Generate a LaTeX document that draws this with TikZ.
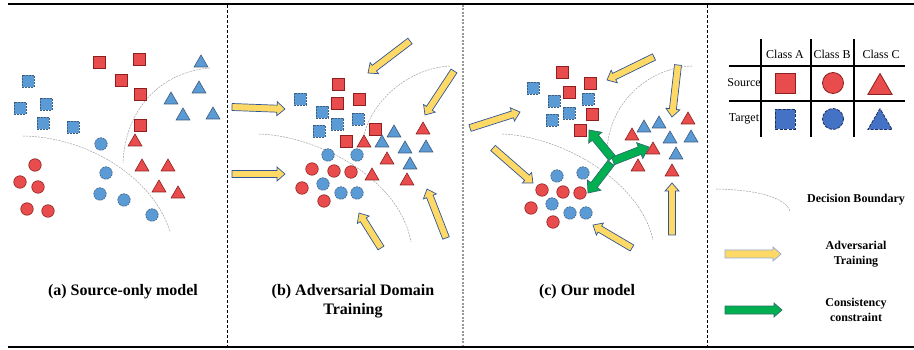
\documentclass[tikz,border=0pt]{standalone}
\usepackage{fontspec}
\setmainfont{Liberation Serif}
\usetikzlibrary{shapes.geometric,calc}

\definecolor{rfill}{HTML}{E84C4C}
\definecolor{rline}{HTML}{8E1F1F}
\definecolor{bfill}{HTML}{5B9BD5}
\definecolor{bline}{HTML}{3E5C7E}
\definecolor{lbfill}{HTML}{4472C4}
\definecolor{lbline}{HTML}{1F2F5F}
\definecolor{yfill}{HTML}{FFD966}
\definecolor{yline}{HTML}{2F5597}
\definecolor{ylline}{HTML}{8FAADC}
\definecolor{gfill}{HTML}{00B050}
\definecolor{gline}{HTML}{2E6E6E}

\tikzset{
  ptbase/.style={inner sep=0pt, outer sep=0pt, line width=0.6pt},
  ssq/.style={ptbase, rectangle, minimum size=12pt, fill=rfill, draw=rline},
  tsq/.style={ptbase, rectangle, minimum size=12pt, fill=bfill, draw=bline, dash pattern=on 2pt off 1pt},
  sci/.style={ptbase, circle, minimum size=12.5pt, fill=rfill, draw=rline},
  tci/.style={ptbase, circle, minimum size=12.5pt, fill=bfill, draw=bline, dash pattern=on 2pt off 1pt},
  str/.style={ptbase, regular polygon, regular polygon sides=3, minimum size=16pt, yshift=-2pt, fill=rfill, draw=rline},
  ttr/.style={ptbase, regular polygon, regular polygon sides=3, minimum size=16pt, yshift=-2pt, fill=bfill, draw=bline},
  lssq/.style={ptbase, rectangle, minimum size=20pt, fill=rfill, draw=rline, line width=0.8pt},
  ltsq/.style={ptbase, rectangle, minimum size=20pt, fill=lbfill, draw=lbline, line width=0.8pt, dash pattern=on 3pt off 1.5pt},
  lsci/.style={ptbase, circle, minimum size=21pt, fill=rfill, draw=rline, line width=0.8pt},
  ltci/.style={ptbase, circle, minimum size=21pt, fill=lbfill, draw=lbline, line width=0.8pt, dash pattern=on 3pt off 1.5pt},
  lstr/.style={ptbase, regular polygon, regular polygon sides=3, minimum size=28pt, yshift=-3.5pt, fill=rfill, draw=rline, line width=0.8pt},
  lttr/.style={ptbase, regular polygon, regular polygon sides=3, minimum size=28pt, yshift=-3.5pt, fill=lbfill, draw=lbline, line width=0.8pt, dash pattern=on 3pt off 1.5pt},
  bound/.style={draw=gray!75, line width=0.5pt, dash pattern=on 2pt off 1pt},
  yarr/.style={fill=yfill, draw=yline, line width=0.7pt},
  ylarr/.style={fill=yfill, draw=ylline, line width=0.7pt},
  garr/.style={fill=gfill, draw=gline, line width=0.7pt},
  captext/.style={font=\fontsize{16}{19}\selectfont\bfseries, align=center, inner sep=0pt},
  legtext/.style={font=\fontsize{12}{15}\selectfont\bfseries, align=center, inner sep=0pt},
  tabtext/.style={font=\fontsize{12}{14}\selectfont, inner sep=0pt},
  divider/.style={line width=0.6pt, dash pattern=on 3pt off 2pt},
}

% block arrow: #1 style, #2 from, #3 to, #4 half shaft, #5 half head, #6 head length
\newcommand\blkarr[6]{%
  \coordinate (ba-h) at ($(#3)!#6!(#2)$);
  \path[#1] ($(#2)!#4!90:(#3)$) -- ($(ba-h)!#4!90:(#3)$) -- ($(ba-h)!#5!90:(#3)$)
    -- (#3) -- ($(ba-h)!#5!-90:(#3)$) -- ($(ba-h)!#4!-90:(#3)$) -- ($(#2)!#4!-90:(#3)$) -- cycle;
}

\begin{document}
\begin{tikzpicture}[x=1pt,y=-1pt]
\useasboundingbox (0,0) rectangle (914,350);

% frame
\draw[line width=2pt] (8,4) -- (914,4);
\draw[line width=2pt] (8,347) -- (914,347);
\draw[divider] (227,5) -- (227,346);
\draw[line width=1.3pt, draw=gray!80, dash pattern=on 2pt off 1.5pt] (463,5) -- (463,346);
\draw[divider] (707,5) -- (707,346);

% ---------- panel (a) ----------
\draw[bound] (23,136) .. controls (90,137) and (155,180) .. (170,232);
\draw[bound] (210,68) .. controls (160,72) and (125,110) .. (123,163);
\foreach \x/\y [count=\i] in {99/62,139/59,121/80,140/94,140/125}
  \node[ssq] (a-ssq-\i) at (\x,\y) {};
\foreach \x/\y [count=\i] in {28/81,20/108,46/104,43/123,73/127}
  \node[tsq] (a-tsq-\i) at (\x,\y) {};
\foreach \x/\y [count=\i] in {201/61,199/87,171/98,183/114,213/113}
  \node[ttr] (a-ttr-\i) at (\x,\y) {};
\foreach \x/\y [count=\i] in {135/140,142/165,168/165,159/186,178/192}
  \node[str] (a-str-\i) at (\x,\y) {};
\foreach \x/\y [count=\i] in {101/144,106/173,100/194,124/200,152/215}
  \node[tci] (a-tci-\i) at (\x,\y) {};
\foreach \x/\y [count=\i] in {35/165,20/182,38/187,27/209,48/211}
  \node[sci] (a-sci-\i) at (\x,\y) {};
\node[captext] (capa) at (123,292) {(a) Source-only model};

% ---------- panel (b) ----------
\draw[bound] (259,134) .. controls (320,136) and (400,180) .. (411,242);
\draw[bound] (450,66) .. controls (410,68) and (370,100) .. (363,140);
\foreach \x/\y [count=\i] in {338/84,337/103,359/99,375/129,346/141}
  \node[ssq] (b-ssq-\i) at (\x,\y) {};
\foreach \x/\y [count=\i] in {300/99,322/112,337/124,358/119,319/131}
  \node[tsq] (b-tsq-\i) at (\x,\y) {};
\foreach \x/\y [count=\i] in {394/131,382/141,405/147,426/146,410/163}
  \node[ttr] (b-ttr-\i) at (\x,\y) {};
\foreach \x/\y [count=\i] in {423/128,364/141,387/158,372/174,407/179}
  \node[str] (b-str-\i) at (\x,\y) {};
\foreach \x/\y [count=\i] in {328/155,357/155,323/184,341/193,357/193}
  \node[tci] (b-tci-\i) at (\x,\y) {};
\foreach \x/\y [count=\i] in {312/169,334/171,351/172,302/188,324/201}
  \node[sci] (b-sci-\i) at (\x,\y) {};
\coordinate (b1s) at (410,41);  \coordinate (b1e) at (368,73);
\coordinate (b2s) at (454,71);  \coordinate (b2e) at (425,115);
\coordinate (b3s) at (232,107); \coordinate (b3e) at (285,109);
\coordinate (b4s) at (232,174); \coordinate (b4e) at (285,174);
\coordinate (b5s) at (381,248); \coordinate (b5e) at (359,213);
\coordinate (b6s) at (446,238); \coordinate (b6e) at (427,189);
\foreach \n in {1,...,6} {\blkarr{yarr}{b\n s}{b\n e}{3.5pt}{7pt}{8pt}}
\node[captext] (capb) at (353,301) {(b) Adversarial Domain\\Training};

% ---------- panel (c) ----------
\draw[bound] (502,134) .. controls (560,136) and (640,180) .. (653,240);
\draw[bound] (692,66) .. controls (650,68) and (610,100) .. (607,150);
\foreach \x/\y [count=\i] in {562/72,590/83,569/92,592/114,580/130}
  \node[ssq] (c-ssq-\i) at (\x,\y) {};
\foreach \x/\y [count=\i] in {533/88,554/101,588/99,569/113,552/120}
  \node[tsq] (c-tsq-\i) at (\x,\y) {};
\foreach \x/\y [count=\i] in {644/126,659/122,670/137,691/136,676/153}
  \node[ttr] (c-ttr-\i) at (\x,\y) {};
\foreach \x/\y [count=\i] in {688/118,632/134,653/148,638/165,672/170}
  \node[str] (c-str-\i) at (\x,\y) {};
\foreach \x/\y [count=\i] in {557/176,583/173,552/204,570/213,586/213}
  \node[tci] (c-tci-\i) at (\x,\y) {};
\foreach \x/\y [count=\i] in {542/190,563/192,580/193,531/208,553/222}
  \node[sci] (c-sci-\i) at (\x,\y) {};
\coordinate (c1s) at (654,57);  \coordinate (c1e) at (607,80);
\coordinate (c2s) at (678,65);  \coordinate (c2e) at (672,117);
\coordinate (c3s) at (470,128); \coordinate (c3e) at (520,112);
\coordinate (c4s) at (493,148); \coordinate (c4e) at (533,183);
\coordinate (c5s) at (672,235); \coordinate (c5e) at (672,183);
\coordinate (c6s) at (632,248); \coordinate (c6e) at (593,225);
\foreach \n in {1,...,6} {\blkarr{yarr}{c\n s}{c\n e}{3.5pt}{7pt}{8pt}}
\coordinate (g1s) at (612,158); \coordinate (g1e) at (589,130);
\coordinate (g2s) at (613,161); \coordinate (g2e) at (649,147);
\coordinate (g3s) at (611,163); \coordinate (g3e) at (588,193);
\foreach \n in {1,2,3} {\blkarr{garr}{g\n s}{g\n e}{4pt}{8.5pt}{10pt}}
\node[captext] (capc) at (587,292) {(c) Our model};

% ---------- legend ----------
\draw[line width=1.2pt] (761,39) -- (761,137);
\draw[line width=1.2pt] (811,39) -- (811,137);
\draw[line width=1.2pt] (854,39) -- (854,137);
\draw[line width=1.2pt] (729,66) -- (905,66);
\draw[line width=1.2pt] (729,101) -- (905,101);
\node[tabtext] (hA) at (785,54) {Class A};
\node[tabtext] (hB) at (832,54) {Class B};
\node[tabtext] (hC) at (881,54) {Class C};
\node[tabtext] (hS) at (744,83) {Source};
\node[tabtext] (hT) at (744,119) {Target};
\node[lssq] (lsA) at (785,83) {};
\node[lsci] (lsB) at (833,83) {};
\node[lstr] (lsC) at (880,84) {};
\node[ltsq] (ltA) at (785,119) {};
\node[ltci] (ltB) at (833,119) {};
\node[lttr] (ltC) at (880,119) {};

\draw[bound] (716,189) .. controls (760,190) and (785,198) .. (790,211);
\node[legtext] (ldb) at (856,200) {Decision Boundary};
\coordinate (lys) at (725,254); \coordinate (lye) at (781,254);
\blkarr{ylarr}{lys}{lye}{4pt}{7pt}{8pt}
\node[legtext] (lat) at (856,254) {Adversarial\\Training};
\coordinate (lgs) at (725,310); \coordinate (lge) at (782,310);
\blkarr{garr}{lgs}{lge}{4pt}{7pt}{8pt}
\node[legtext] (lcc) at (856,310) {Consistency\\constraint};
\end{tikzpicture}
\end{document}
